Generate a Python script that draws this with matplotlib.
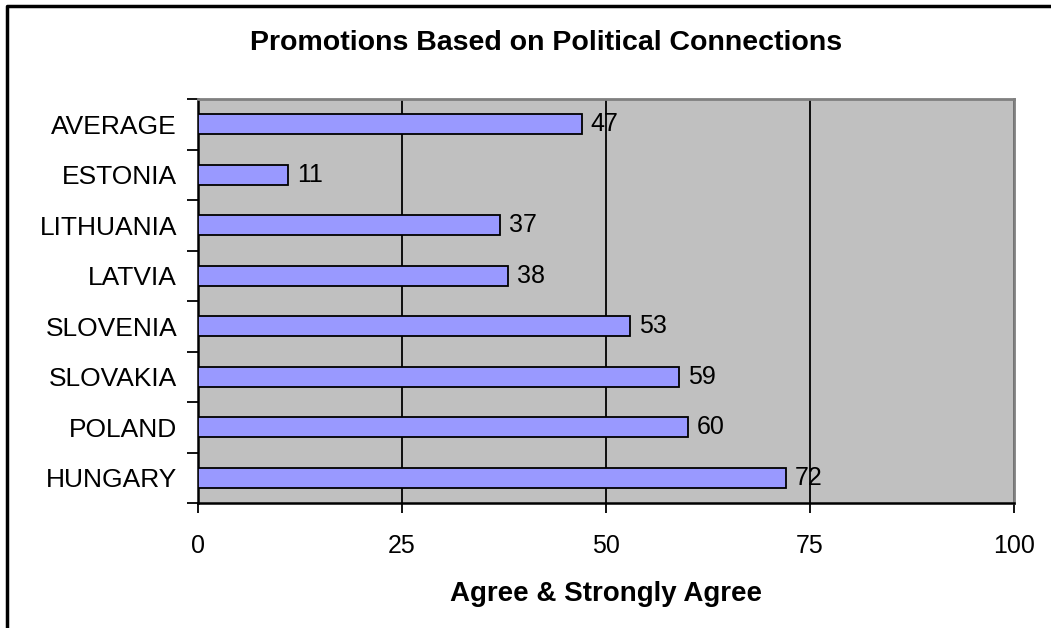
import matplotlib.pyplot as plt
from matplotlib.lines import Line2D
import numpy as np

plt.rcParams["font.family"] = ["Liberation Sans", "DejaVu Sans"]

countries = ["HUNGARY", "POLAND", "SLOVAKIA", "SLOVENIA", "LATVIA",
             "LITHUANIA", "ESTONIA", "AVERAGE"]
values = [72, 60, 59, 53, 38, 37, 11, 47]

TITLE = "Promotions Based on Political Connections"
XLABEL = "Agree & Strongly Agree"


def draw():
    fig = plt.figure(figsize=(10.51, 6.28), dpi=100)
    ax = fig.add_axes([198 / 1051, 1 - 503 / 628, 816 / 1051, 404 / 628])
    ax.set_facecolor("#C0C0C0")

    y = np.arange(len(countries))
    ax.barh(y, values, height=0.4, color="#9999FF", edgecolor="black",
            linewidth=1.3, zorder=3)
    for yi, v in zip(y, values):
        ax.text(v + 1.1, yi, str(v), va="center", ha="left", fontsize=18,
                zorder=4)

    ax.set_xlim(0, 100)
    ax.set_ylim(-0.5, len(countries) - 0.5)
    ax.set_xticks([0, 25, 50, 75, 100])
    ax.tick_params(axis="x", length=7, width=1.3, labelsize=18, pad=15,
                   direction="out")
    ax.xaxis.grid(True, color="black", linewidth=1.3, zorder=1)
    ax.set_axisbelow(True)

    ax.set_yticks(y)
    ax.set_yticklabels(countries, fontsize=19)
    ax.tick_params(axis="y", which="major", length=0, pad=15)
    ax.set_yticks(np.arange(len(countries) + 1) - 0.5, minor=True)
    ax.tick_params(axis="y", which="minor", length=8, width=1.3,
                   direction="out")

    for side in ["left", "bottom"]:
        ax.spines[side].set_color("black")
        ax.spines[side].set_linewidth(1.8)
    for side in ["top", "right"]:
        ax.spines[side].set_color("#808080")
        ax.spines[side].set_linewidth(2)

    ax.set_xlabel(XLABEL, fontsize=20, fontweight="bold", labelpad=17)
    fig.text(546 / 1051, 1 - 43 / 628, TITLE, ha="center", va="center",
             fontsize=20.5, fontweight="bold")

    # outer chart border (only left and top visible)
    bx, by = 7 / 1051, 1 - 6 / 628
    fig.add_artist(Line2D([bx, bx, 1.0], [0.0, by, by], color="black",
                          linewidth=2.5, transform=fig.transFigure))

    fig.savefig("out.png", dpi=100)
    plt.close(fig)


if __name__ == "__main__":
    draw()
